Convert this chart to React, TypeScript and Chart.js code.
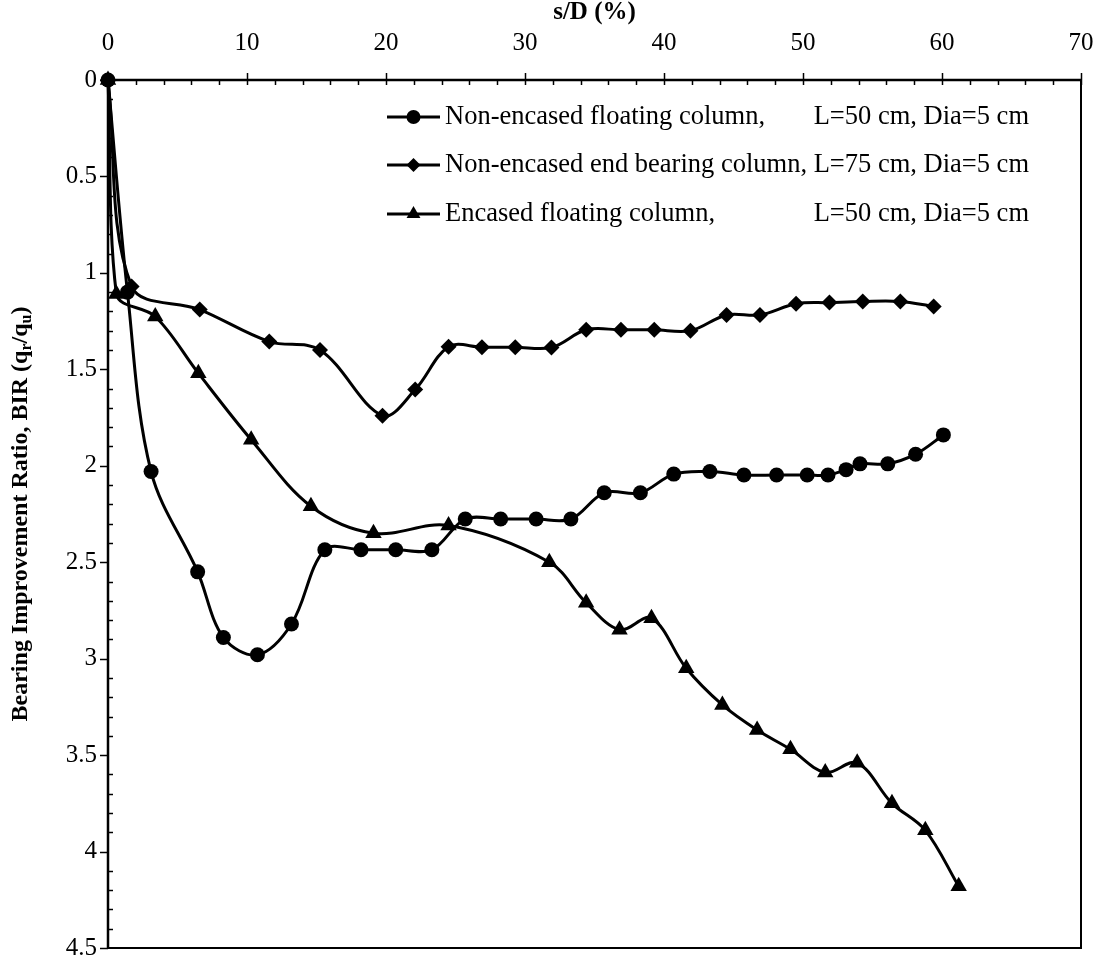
import React, { useEffect, useRef } from "react";
import { Chart, registerables } from "chart.js";

Chart.register(...registerables);

// Non-encased floating column (circles)
const floatX = [0, 1.4, 3.1, 6.45, 8.3, 10.75, 13.2, 15.6, 18.2, 20.7, 23.3, 25.7, 28.25, 30.8, 33.3, 35.7, 38.3, 40.7, 43.3, 45.75, 48.1, 50.3, 51.8, 53.1, 54.1, 56.1, 58.1, 60.1];
const floatY = [0, 1.1, 2.03, 2.55, 2.89, 2.98, 2.82, 2.435, 2.435, 2.435, 2.435, 2.276, 2.276, 2.276, 2.276, 2.14, 2.14, 2.043, 2.03, 2.048, 2.048, 2.048, 2.048, 2.02, 1.99, 1.99, 1.94, 1.84];

// Non-encased end bearing column (diamonds)
const endX = [0, 1.7, 6.6, 11.6, 15.25, 19.75, 22.1, 24.5, 26.9, 29.3, 31.9, 34.4, 36.9, 39.3, 41.9, 44.5, 46.9, 49.5, 51.9, 54.3, 57.0, 59.4];
const endY = [0, 1.07, 1.19, 1.356, 1.4, 1.74, 1.605, 1.383, 1.385, 1.385, 1.387, 1.295, 1.295, 1.295, 1.3, 1.218, 1.218, 1.16, 1.154, 1.148, 1.148, 1.174];

// Encased floating column (triangles)
const encX = [0, 0.6, 3.4, 6.5, 10.3, 14.6, 19.1, 24.5, 31.75, 34.4, 36.8, 39.1, 41.6, 44.2, 46.7, 49.1, 51.6, 53.9, 56.4, 58.8, 61.2];
const encY = [0, 1.11, 1.226, 1.52, 1.865, 2.21, 2.35, 2.31, 2.5, 2.71, 2.85, 2.79, 3.05, 3.24, 3.37, 3.47, 3.59, 3.54, 3.75, 3.89, 4.18];

const legendLeft = ["Non-encased floating column,", "Non-encased end bearing column,", "Encased floating column,"];
const legendRight = ["L=50 cm, Dia=5 cm", "L=75 cm, Dia=5 cm", "L=50 cm, Dia=5 cm"];
const legendStyles = ["circle", "rectRot", "triangle"];

const xTitle = "s/D (%)";
const FONT = "'Liberation Serif', 'Times New Roman', serif";

function drawMarker(ctx: CanvasRenderingContext2D, style: string, x: number, y: number, r: number) {
  ctx.beginPath();
  if (style === "circle") {
    ctx.arc(x, y, r, 0, Math.PI * 2);
  } else if (style === "rectRot") {
    ctx.moveTo(x, y - r);
    ctx.lineTo(x + r, y);
    ctx.lineTo(x, y + r);
    ctx.lineTo(x - r, y);
    ctx.closePath();
  } else {
    ctx.moveTo(x, y - r);
    ctx.lineTo(x + r * 0.866, y + r * 0.5);
    ctx.lineTo(x - r * 0.866, y + r * 0.5);
    ctx.closePath();
  }
  ctx.fill();
}

const zeroPad = (s: any) => {
  s.paddingLeft = 0;
  s.paddingRight = 0;
  s.paddingTop = 0;
  s.paddingBottom = 0;
};

const axesPlugin = {
  id: "axesDecor",
  beforeDatasetsDraw(chart: any) {
    const { ctx, chartArea } = chart;
    const { left, right, top, bottom } = chartArea;
    const xs = chart.scales.x;
    const ys = chart.scales.y;
    ctx.save();
    ctx.strokeStyle = "#000";
    ctx.lineCap = "butt";
    ctx.lineWidth = 2;
    ctx.beginPath();
    ctx.moveTo(right, top);
    ctx.lineTo(right, bottom);
    ctx.lineTo(left, bottom);
    ctx.stroke();
    ctx.lineWidth = 2.5;
    ctx.beginPath();
    ctx.moveTo(left, top);
    ctx.lineTo(left, bottom);
    ctx.stroke();
    ctx.beginPath();
    ctx.moveTo(left, top);
    ctx.lineTo(right, top);
    ctx.stroke();
    ctx.lineWidth = 1.5;
    for (let v = 0; v <= 70; v += 2) {
      const px = Math.round(xs.getPixelForValue(v)) + 0.5;
      ctx.beginPath();
      if (v % 10 === 0) {
        ctx.moveTo(px, top - 7);
        ctx.lineTo(px, top + 5);
      } else {
        ctx.moveTo(px, top);
        ctx.lineTo(px, top + 5);
      }
      ctx.stroke();
    }
    for (let i = 0; i <= 45; i++) {
      const v = i / 10;
      const py = Math.round(ys.getPixelForValue(v)) + 0.5;
      ctx.beginPath();
      if (i % 5 === 0) {
        ctx.moveTo(left - 8, py);
        ctx.lineTo(left, py);
      } else {
        ctx.moveTo(left, py);
        ctx.lineTo(left + 5, py);
      }
      ctx.stroke();
    }
    ctx.restore();
  },
  afterDraw(chart: any) {
    const { ctx, chartArea } = chart;
    const { left, right, top, bottom } = chartArea;
    ctx.save();
    ctx.fillStyle = "#000";
    ctx.strokeStyle = "#000";
    ctx.font = `bold 25px ${FONT}`;
    ctx.textAlign = "center";
    ctx.textBaseline = "middle";
    ctx.fillText(xTitle, (left + right) / 2, 13);

    ctx.save();
    ctx.translate(19, (top + bottom) / 2);
    ctx.rotate(-Math.PI / 2);
    const mainFont = `bold 24px ${FONT}`;
    const subFont = `bold 16px ${FONT}`;
    const parts: [string, boolean][] = [
      ["Bearing Improvement Ratio, BIR (q", false],
      ["r", true],
      ["/q", false],
      ["u", true],
      [")", false],
    ];
    let total = 0;
    for (const [t, sub] of parts) {
      ctx.font = sub ? subFont : mainFont;
      total += ctx.measureText(t).width;
    }
    let cx = -total / 2;
    ctx.textAlign = "left";
    ctx.textBaseline = "alphabetic";
    for (const [t, sub] of parts) {
      ctx.font = sub ? subFont : mainFont;
      ctx.fillText(t, cx, sub ? 12 : 8);
      cx += ctx.measureText(t).width;
    }
    ctx.restore();

    const rows = [117, 165, 214];
    const lineX0 = 387;
    const lineX1 = 440;
    const textX = 445;
    ctx.font = `26.5px ${FONT}`;
    ctx.textBaseline = "middle";
    const rightEdge = textX + ctx.measureText(legendLeft[1] + " " + legendRight[1]).width;
    for (let i = 0; i < 3; i++) {
      const y = rows[i];
      ctx.lineWidth = 3;
      ctx.beginPath();
      ctx.moveTo(lineX0, y);
      ctx.lineTo(lineX1, y);
      ctx.stroke();
      drawMarker(ctx, legendStyles[i], (lineX0 + lineX1) / 2, y, i === 2 ? 8 : 7);
      ctx.textAlign = "left";
      ctx.fillText(legendLeft[i], textX, y);
      ctx.textAlign = "right";
      ctx.fillText(legendRight[i], rightEdge, y);
    }
    ctx.restore();
  },
};

export default function App() {
  const ref = useRef<HTMLCanvasElement | null>(null);
  useEffect(() => {
    if (!ref.current) return;
    const mk = (xs: number[], ys: number[]) => xs.map((x, i) => ({ x, y: ys[i] }));
    const common = {
      showLine: true,
      borderColor: "#000",
      backgroundColor: "#000",
      pointBackgroundColor: "#000",
      pointBorderColor: "#000",
      borderWidth: 3,
      pointBorderWidth: 0,
      tension: 0.35,
      clip: false,
    };
    const chart = new Chart(ref.current, {
      type: "scatter",
      data: {
        datasets: [
          { ...common, label: legendLeft[0], data: mk(floatX, floatY), pointStyle: "circle", pointRadius: 7.5 },
          { ...common, label: legendLeft[1], data: mk(endX, endY), pointStyle: "rectRot", pointRadius: 8 },
          { ...common, label: legendLeft[2], data: mk(encX, encY), pointStyle: "triangle", pointRadius: 9.5 },
        ],
      },
      options: {
        responsive: false,
        animation: false,
        events: [],
        layout: { autoPadding: false, padding: { left: 0, top: 0, right: 26, bottom: 12 } },
        plugins: { legend: { display: false }, tooltip: { enabled: false } },
        scales: {
          x: {
            type: "linear",
            position: "top",
            min: 0,
            max: 70,
            grid: { display: false, drawTicks: false },
            border: { display: false },
            ticks: { stepSize: 10, color: "#000", padding: 22, font: { family: FONT, size: 25 } },
            afterFit: (s: any) => { s.height = 80; zeroPad(s); },
          },
          y: {
            type: "linear",
            reverse: true,
            min: 0,
            max: 4.5,
            grid: { display: false, drawTicks: false },
            border: { display: false },
            ticks: {
              stepSize: 0.5,
              color: "#000",
              padding: 11,
              font: { family: FONT, size: 25 },
              callback: (v: any) => String(Number(v)),
            },
            afterFit: (s: any) => { s.width = 108; zeroPad(s); },
          },
        },
      },
      plugins: [axesPlugin],
    } as any);
    return () => chart.destroy();
  }, []);
  return (
    <div style={{ position: "fixed", left: 0, top: 0, width: 1107, height: 960, background: "#fff" }}>
      <canvas ref={ref} width={1107} height={960} style={{ width: 1107, height: 960, display: "block" }} />
    </div>
  );
}
